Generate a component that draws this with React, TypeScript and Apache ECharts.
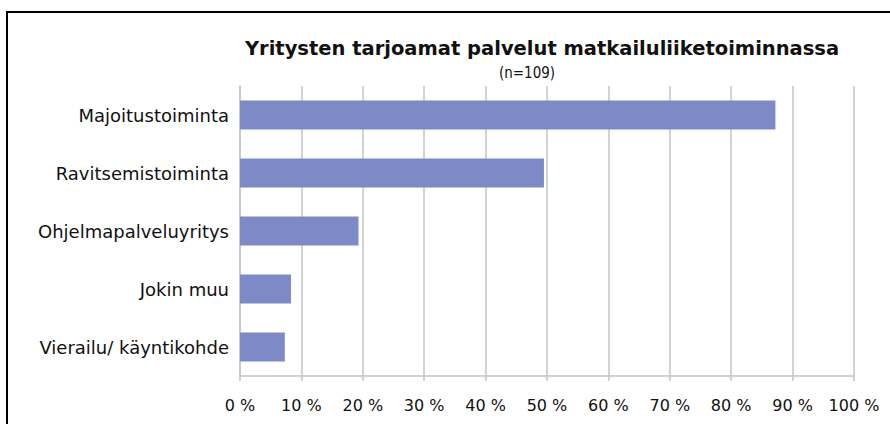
import React, { useEffect, useRef } from "react";
import * as echarts from "echarts";

const categories = [
  "Vierailu/ käyntikohde",
  "Jokin muu",
  "Ohjelmapalveluyritys",
  "Ravitsemistoiminta",
  "Majoitustoiminta",
];
const values = [7.3, 8.3, 19.3, 49.5, 87.2];
const titleText = "Yritysten tarjoamat palvelut matkailuliiketoiminnassa";
const subtitleText = "(n=109)";

export default function App() {
  const ref = useRef<HTMLDivElement>(null);
  useEffect(() => {
    if (!ref.current) return;
    const chart = echarts.init(ref.current, undefined, { renderer: "svg" });
    const font = "DejaVu Sans";
    chart.setOption({
      animation: false,
      textStyle: { fontFamily: font },
      title: [
        {
          text: titleText,
          left: 537,
          top: 33,
          textAlign: "center",
          textStyle: { fontFamily: font, fontSize: 19.5, fontWeight: "bold", color: "#111" },
        },
        {
          text: subtitleText,
          left: 522,
          top: 60,
          textAlign: "center",
          textStyle: { fontFamily: "DejaVu Sans Condensed, DejaVu Sans", fontSize: 15, fontWeight: "normal", color: "#111" },
        },
      ],
      graphic: [
        {
          type: "rect",
          shape: { x: 7, y: 12, width: 1000, height: 600 },
          style: { fill: "none", stroke: "#000", lineWidth: 2 },
          silent: true,
        },
      ],
      grid: { left: 240, right: 36, top: 86, bottom: 48, containLabel: false },
      xAxis: {
        type: "value",
        min: 0,
        max: 100,
        interval: 10,
        axisLine: { show: true, lineStyle: { color: "#c4c4c4", width: 1.5 } },
        axisTick: { show: true, length: 5, lineStyle: { color: "#c4c4c4", width: 1.5 } },
        splitLine: { show: true, lineStyle: { color: "#c4c4c4", width: 1.5 } },
        axisLabel: {
          formatter: (v: number) => v + " %",
          color: "#111",
          fontSize: 16,
          margin: 21,
          fontFamily: font,
        },
      },
      yAxis: {
        type: "category",
        data: categories,
        axisLine: { show: true, lineStyle: { color: "#c4c4c4", width: 1.5 } },
        axisTick: { show: false },
        splitLine: { show: false },
        axisLabel: { color: "#111", fontSize: 18, margin: 11, fontFamily: font },
      },
      series: [
        {
          type: "bar",
          data: values,
          barWidth: "50%",
          itemStyle: { color: "#7e8ac5" },
        },
      ],
    });
    return () => chart.dispose();
  }, []);
  return (
    <div
      ref={ref}
      style={{ position: "fixed", left: 0, top: 0, width: 890, height: 424, background: "#fff" }}
    />
  );
}
